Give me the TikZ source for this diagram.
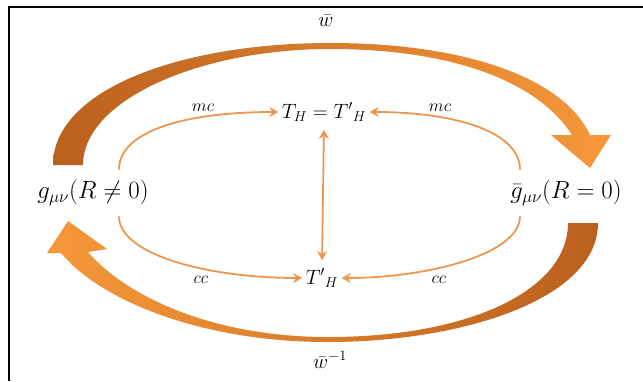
\documentclass[tikz,border=0pt]{standalone}
\usepackage{amsmath,amssymb}
\usepackage{tikz}
\usetikzlibrary{arrows.meta}
\usepackage{xcolor}
\definecolor{orline}{RGB}{239,150,78}
\definecolor{ordark}{RGB}{186,96,30}
\definecolor{orlight}{RGB}{246,152,58}

\begin{document}
\begin{tikzpicture}[x=1pt,y=-1pt,>={Stealth[length=9pt,width=10pt]},
  big/.style={font=\fontsize{20}{24}\selectfont},
  metric/.style={font=\fontsize{23}{26}\selectfont},
  tag/.style={font=\fontsize{18}{20}\selectfont},
  thinarrow/.style={draw=orline,line width=1.8pt}]
\useasboundingbox (0,0) rectangle (643,381);
\draw[line width=2pt] (643,7) -- (9,7) -- (9,381);
% the two wide curved arrows
\shade[left color=ordark,right color=orlight] (53,165) .. controls (53,90) and (180,43) .. (330,43)
  .. controls (470,43) and (565,80) .. (590,135) -- (611,135) -- (590,168) -- (551,135) -- (572,135)
  .. controls (540,85) and (460,49) .. (330,49) .. controls (200,49) and (83,100) .. (83,165) -- cycle;
\shade[left color=orlight,right color=ordark] (598,223) .. controls (598,300) and (460,342) .. (328,342)
  .. controls (200,342) and (100,300) .. (61,253) -- (47,253) -- (68,221) -- (107,249) -- (88,252)
  .. controls (125,295) and (210,337) .. (328,337) .. controls (470,337) and (568,290) .. (568,223) -- cycle;
\node[big] (wTop) at (326,21) {$\bar w$};
\node[big] (wBot) at (330,360) {$\bar w^{-1}$};
% metrics and horizons
\node[metric] (gL) at (93,193) {$g_{\mu\nu}(R\neq 0)$};
\node[metric] (gR) at (566,193) {$\bar g_{\mu\nu}(R=0)$};
\node[big] (TT) at (324,112) {$T_H = {T'}_H$};
\node[big] (TB) at (322,278) {${T'}_H$};
\draw[thinarrow,->] ([xshift=26pt,yshift=7pt]gL.north) .. controls +(0,-38) and +(-95,0) .. (TT.west);
\draw[thinarrow,->] ([xshift=-46pt,yshift=7pt]gR.north) .. controls +(0,-38) and +(85,0) .. (TT.east);
\draw[thinarrow,->] ([xshift=26pt,yshift=-7pt]gL.south) .. controls +(0,38) and +(-95,0) .. (TB.west);
\draw[thinarrow,->] ([xshift=-46pt,yshift=-7pt]gR.south) .. controls +(0,38) and +(85,0) .. (TB.east);
\draw[thinarrow,<->,shorten <=5pt,shorten >=5pt] (TT.south) -- (TB.north);
\node[tag] (mcL) at (203,108) {$mc$};
\node[tag] (mcR) at (440,108) {$mc$};
\node[tag] (ccL) at (201,280) {$cc$};
\node[tag] (ccR) at (439,280) {$cc$};
\end{tikzpicture}
\end{document}
